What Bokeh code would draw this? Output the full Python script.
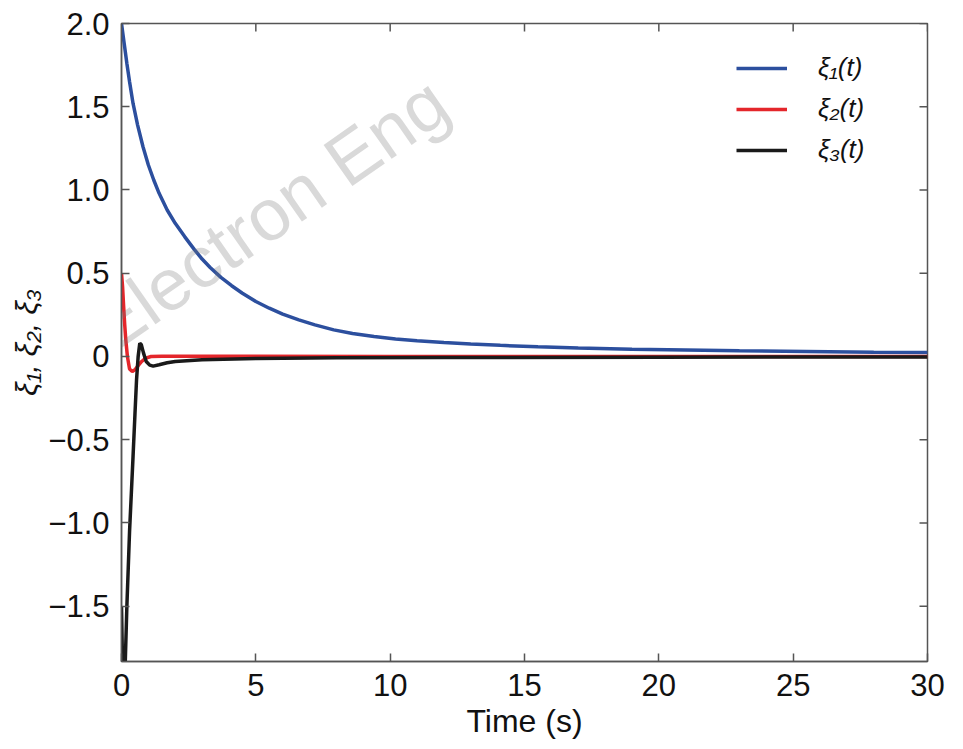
from bokeh.plotting import figure
from bokeh.models import FixedTicker, Legend, LegendItem, Label, Range1d
from bokeh.embed import file_html
from bokeh.resources import INLINE

# ---- data ----
t1 = [0, 0.1, 0.2, 0.3, 0.43, 0.6, 0.8, 1.0, 1.2, 1.4, 1.7, 2.0, 2.35, 2.7, 3.0, 3.3, 3.7,
      4.1, 4.5, 5.0, 5.5, 6.0, 6.6, 7.2, 7.9, 8.6, 9.4, 10.2, 11.0, 12.0, 13.0, 14.1, 15.5,
      17.0, 19.0, 21.0, 23.0, 25.5, 28.0, 30.0]
xi1 = [2.0, 1.88, 1.76, 1.65, 1.52, 1.39, 1.26, 1.15, 1.06, 0.98, 0.88, 0.8, 0.72, 0.645,
       0.585, 0.535, 0.475, 0.425, 0.38, 0.33, 0.29, 0.255, 0.22, 0.19, 0.16, 0.138, 0.12,
       0.105, 0.094, 0.084, 0.075, 0.067, 0.058, 0.051, 0.044, 0.039, 0.034, 0.03, 0.026, 0.024]

t2 = [0, 0.04, 0.08, 0.12, 0.16, 0.22, 0.3, 0.4, 0.5, 0.62, 0.75, 0.9, 1.1, 1.5, 3.0, 10.0, 30.0]
xi2 = [0.5, 0.42, 0.3, 0.19, 0.1, 0.0, -0.075, -0.09, -0.08, -0.055, -0.03, -0.01, 0.0, 0.002,
       0.001, 0.0, 0.0]

t3 = [0, 0.05, 0.12, 0.2, 0.3, 0.43, 0.5, 0.56, 0.62, 0.68, 0.74, 0.82, 0.92, 1.05, 1.18,
      1.4, 1.7, 2.0, 3.0, 5.0, 8.0, 12.0, 20.0, 30.0]
xi3 = [-1.5, -1.95, -1.95, -1.5, -1.05, -0.6, -0.35, -0.14, 0.0, 0.08, 0.07, 0.02, -0.03,
       -0.052, -0.058, -0.05, -0.038, -0.03, -0.02, -0.012, -0.008, -0.006, -0.004, -0.003]

X_MIN, X_MAX = 0, 30
Y_MIN, Y_MAX = -1.832, 2.0
x_ticks = [0, 5, 10, 15, 20, 25, 30]
y_ticks = [-1.5, -1.0, -0.5, 0.0, 0.5, 1.0, 1.5, 2.0]
y_tick_labels = ["\u22121.5", "\u22121.0", "\u22120.5", "0", "0.5", "1.0", "1.5", "2.0"]
series_labels = ["\u03be\u2081(t)", "\u03be\u2082(t)", "\u03be\u2083(t)"]
series_colors = ["#2c4f9e", "#e4262b", "#1a1a1a"]

FONT = "Liberation Sans"
SPINE = "#555555"
TEXT = "#111111"

p = figure(frame_width=806, frame_height=638,
           min_border_left=121, min_border_right=30, min_border_top=23, min_border_bottom=88,
           x_range=Range1d(X_MIN, X_MAX), y_range=Range1d(Y_MIN, Y_MAX),
           output_backend="svg", toolbar_location=None)
p.background_fill_color = "white"
p.border_fill_color = "white"
p.outline_line_color = SPINE
p.outline_line_width = 1.5
p.xgrid.visible = False
p.ygrid.visible = False

def style_axis(ax, ticks):
    ax.ticker = FixedTicker(ticks=ticks)
    ax.major_tick_in = 8
    ax.major_tick_out = 0
    ax.minor_tick_line_color = None
    ax.axis_line_color = SPINE
    ax.axis_line_width = 1.5
    ax.major_tick_line_color = SPINE
    ax.major_tick_line_width = 1.5
    ax.major_label_text_font = FONT
    ax.major_label_text_font_size = "31px"
    ax.major_label_text_color = TEXT

style_axis(p.xaxis[0], x_ticks)
style_axis(p.yaxis[0], y_ticks)
p.xaxis[0].major_label_standoff = 12
p.yaxis[0].major_label_standoff = 12
p.yaxis[0].major_label_overrides = {float(v): s for v, s in zip(y_ticks, y_tick_labels)}

p.xaxis[0].axis_label = "Time (s)"
p.xaxis[0].axis_label_text_font = FONT
p.xaxis[0].axis_label_text_font_size = "32px"
p.xaxis[0].axis_label_text_font_style = "normal"
p.xaxis[0].axis_label_text_color = TEXT
p.xaxis[0].axis_label_standoff = 4

p.yaxis[0].axis_label = "\u03be\u2081, \u03be\u2082, \u03be\u2083"
p.yaxis[0].axis_label_text_font = FONT
p.yaxis[0].axis_label_text_font_size = "30px"
p.yaxis[0].axis_label_text_font_style = "italic"
p.yaxis[0].axis_label_text_color = TEXT
p.yaxis[0].axis_label_standoff = 2

# inward ticks on the top and right edges (half of each dash is clipped by the frame)
p.scatter(x=x_ticks, y=[Y_MAX] * len(x_ticks), marker="dash", angle=90, angle_units="deg",
          size=16, line_color=SPINE, line_width=1.5)
p.scatter(x=[X_MAX] * len(y_ticks), y=y_ticks, marker="dash",
          size=16, line_color=SPINE, line_width=1.5)

r1 = p.line(t1, xi1, line_color=series_colors[0], line_width=3.5)
r2 = p.line(t2, xi2, line_color=series_colors[1], line_width=3.5)
r3 = p.line(t3, xi3, line_color=series_colors[2], line_width=3.5)

# faint watermark (its left end runs past the frame edge, as in the reference)
wm = Label(x=-4.5, y=-0.27, text="nol Electron Eng", angle=35, angle_units="deg",
           text_font=FONT, text_font_size="73px", text_color="#777777", text_alpha=0.28,
           text_align="left", text_baseline="alphabetic")
p.add_layout(wm)

legend = Legend(items=[LegendItem(label=series_labels[0], renderers=[r1]),
                       LegendItem(label=series_labels[1], renderers=[r2]),
                       LegendItem(label=series_labels[2], renderers=[r3])],
                location=(615, 496), padding=0, margin=0,
                border_line_color=None, background_fill_alpha=0,
                glyph_width=51, glyph_height=30, label_height=30, spacing=10,
                label_standoff=31, label_text_font=FONT, label_text_font_size="26px",
                label_text_font_style="italic", label_text_color=TEXT)
p.add_layout(legend)

open("out.html", "w").write(file_html(p, INLINE))
